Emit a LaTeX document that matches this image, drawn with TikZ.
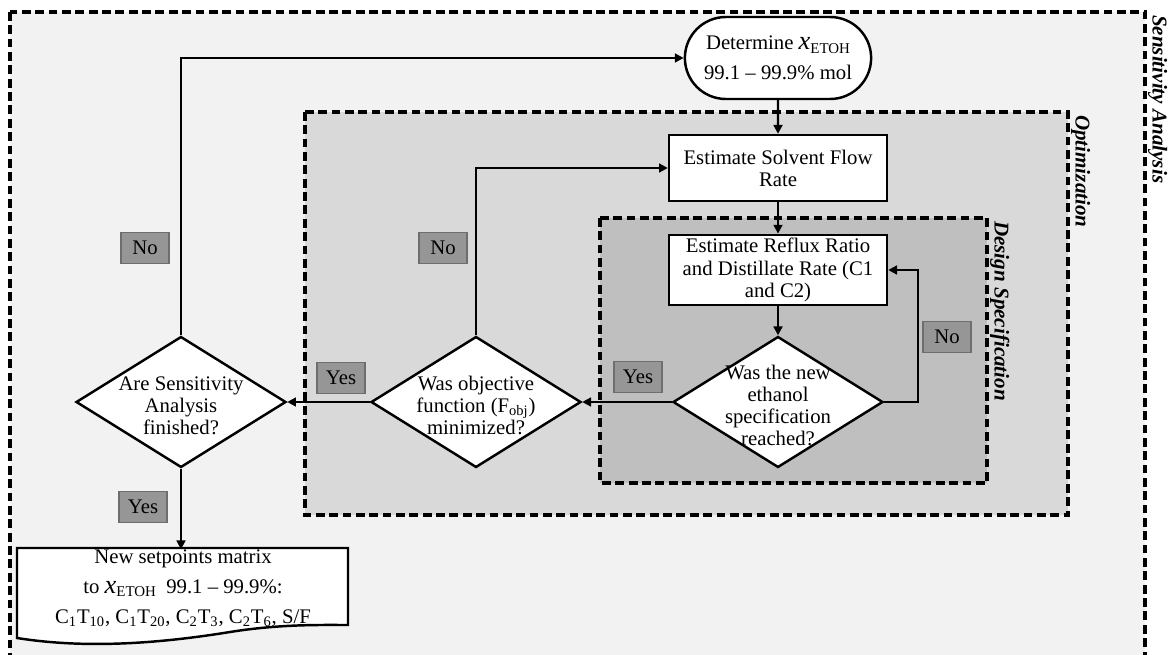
\documentclass[tikz,border=0pt]{standalone}
\usepackage{amsmath}
\usepackage{fontspec}
\setmainfont{Liberation Serif}
\usetikzlibrary{shapes.geometric,shapes.misc,arrows.meta}

\definecolor{sensfill}{HTML}{F2F2F2}
\definecolor{optfill}{HTML}{D9D9D9}
\definecolor{specfill}{HTML}{BFBFBF}
\definecolor{tagfill}{HTML}{969696}
\definecolor{tagdraw}{HTML}{6E6E6E}

\newcommand*{\xetoh}{{\fontsize{15}{15}\selectfont\itshape x}\raisebox{-0.35ex}{\fontsize{8.5}{9}\selectfont ETOH}}

\begin{document}
\begin{tikzpicture}
[
	x=0.02cm, y=-0.02cm,
	every node/.style={font=\fontsize{11.8}{12.6}\selectfont},
	zone/.style={draw,line width=1.8pt,dash pattern=on 5pt off 2.6pt},
	zonelabel/.style={rotate=-90,anchor=south west,inner sep=1pt,font=\fontsize{12}{12.6}\selectfont\bfseries\itshape},
	startstop/.style={rounded rectangle,draw,fill=white,line width=1.4pt,minimum width=3.96cm,minimum height=1.64cm,align=center,font=\fontsize{11.8}{17}\selectfont},
	process/.style={rectangle,draw,fill=white,line width=1.4pt,minimum width=4.36cm,minimum height=1.32cm,align=center,inner sep=2pt},
	decision/.style={diamond,draw,fill=white,line width=1.4pt,minimum width=4.2cm,minimum height=2.62cm,inner sep=0pt},
	answer/.style={draw=tagdraw,fill=tagfill,line width=0.7pt,minimum width=0.96cm,minimum height=0.62cm,inner sep=0pt},
	flowline/.style={-{Triangle[length=5pt,width=5pt]},line width=1.3pt}
]

	\useasboundingbox (0,0) rectangle (1169,655);

	% zones
	\draw[zone,fill=sensfill] (10,12) rectangle (1145,690);
	\draw[zone,fill=optfill] (305,112) rectangle (1068,515);
	\draw[zone,fill=specfill] (600,218) rectangle (987,483);

	\node[zonelabel] (senslabel) at (1146,13) {Sensitivity Analysis};
	\node[zonelabel] (optlabel) at (1069,113) {Optimization};
	\node[zonelabel] (speclabel) at (988,219) {Design Specification};

	% steps
	\node[startstop] (target) at (778,58) {Determine \xetoh\\99.1 -- 99.9\% mol};
	\node[process] (solvent) at (778,168) {Estimate Solvent Flow\\Rate};
	\node[process] (reflux) at (778,270) {Estimate Reflux Ratio\\and Distillate Rate (C1\\and C2)};

	\node[decision,label={[align=center,yshift=-2pt]center:Was the new\\ethanol\\specification\\reached?}] (specok) at (778,402) {};
	\node[decision,label={[align=center,yshift=-2pt]center:Was objective\\function (F\textsubscript{obj})\\minimized?}] (objok) at (476,402) {};
	\node[decision,label={[align=center,yshift=-2pt]center:Are Sensitivity\\Analysis\\finished?}] (sensok) at (181,402) {};

	% output document
	\draw[line width=1.4pt,fill=white] (17,548) -- (348,548) -- (348,625)
		.. controls (320,625) and (280,624) .. (230,632)
		.. controls (150,645) and (80,648) .. (17,638) -- cycle;
	\node[align=center,inner sep=0pt,font=\fontsize{11.8}{17}\selectfont] (setpoints) at (183,588)
		{New setpoints matrix\\to \xetoh\ \ 99.1 -- 99.9\%:\\C\textsubscript{1}T\textsubscript{10}, C\textsubscript{1}T\textsubscript{20}, C\textsubscript{2}T\textsubscript{3}, C\textsubscript{2}T\textsubscript{6}, S/F};

	% connectors
	\draw[flowline] (target) -- (solvent);
	\draw[flowline] (solvent) -- (reflux);
	\draw[flowline] (reflux) -- (specok);
	\draw[flowline] (specok) -- (objok);
	\draw[flowline] (objok) -- (sensok);
	\draw[flowline] (sensok.south) -- (sensok.south |- setpoints.north);

	\draw[flowline] (specok.east) -- ++(34,0) |- (reflux.east);
	\draw[flowline] (objok.north) |- (solvent.west);
	\draw[flowline] (sensok.north) |- (target.west);

	% answers
	\node[answer] (nosens) at (145,248) {No};
	\node[answer] (noobj) at (443,248) {No};
	\node[answer] (nospec) at (947,337) {No};
	\node[answer] (yessens) at (143,507) {Yes};
	\node[answer] (yesobj) at (341,378) {Yes};
	\node[answer] (yesspec) at (638,377) {Yes};

\end{tikzpicture}
\end{document}
